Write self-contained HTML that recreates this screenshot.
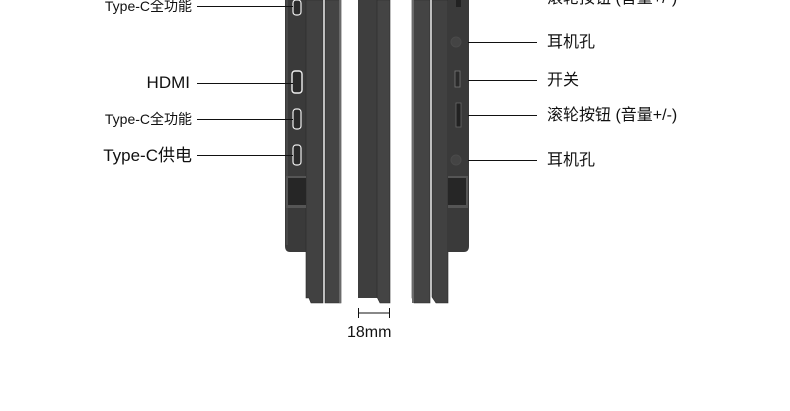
<!DOCTYPE html>
<html><head><meta charset="utf-8"><style>
body{margin:0;width:790px;height:411px;background:#fff;overflow:hidden;position:relative;font-family:"Liberation Sans","Noto Sans CJK SC",sans-serif;color:#111}
.a{position:absolute}
.t{position:absolute;white-space:nowrap;line-height:1}
.l{position:absolute;height:1px;background:#111}
</style></head><body>
<svg class="a" style="left:0;top:0" width="790" height="411">
<path d="M285 0 H306 V252 H290 Q285 252 285 246 Z" fill="#3a3a3a"/>
<line x1="287" y1="0" x2="287" y2="245" stroke="#555" stroke-width="1"/>
<path d="M306 0 H323 V303 H311 L309 298 H306 Z" fill="#414141" stroke="#2a2a2a" stroke-width="0.6"/>
<path d="M325 0 H341 V303 H325 Z" fill="#444" stroke="#2a2a2a" stroke-width="0.6"/>
<rect x="339" y="0" width="2" height="303" fill="#6a6a6a"/>
<rect x="286" y="176" width="20" height="32" fill="#555"/>
<rect x="288" y="178" width="18" height="27" fill="#262626"/>
<rect x="293" y="0" width="8" height="15" rx="3" fill="#2a2a2a" stroke="#eee" stroke-width="1.2"/>
<rect x="292" y="71" width="10" height="22" rx="3" fill="#2a2a2a" stroke="#eee" stroke-width="1.4"/>
<rect x="293" y="109" width="8" height="20" rx="3" fill="#2a2a2a" stroke="#eee" stroke-width="1.2"/>
<rect x="293" y="145" width="8" height="20" rx="3" fill="#2a2a2a" stroke="#eee" stroke-width="1.2"/>
<path d="M358 0 H377 V298 H358 Z" fill="#3e3e3e"/>
<path d="M377 0 H390 V303 H380 L377 297 Z" fill="#444" stroke="#2a2a2a" stroke-width="0.6"/>
<path d="M412 0 H430 V303 H414 L412 298 Z" fill="#444" stroke="#2a2a2a" stroke-width="0.6"/>
<rect x="412" y="0" width="2" height="303" fill="#6a6a6a"/>
<path d="M432 0 H448 V303 H436 L432 297 Z" fill="#414141" stroke="#2a2a2a" stroke-width="0.6"/>
<path d="M448 0 H469 V246 Q469 252 464 252 H448 Z" fill="#3a3a3a"/>
<rect x="448" y="176" width="20" height="32" fill="#555"/>
<rect x="448" y="178" width="18" height="27" fill="#262626"/>
<circle cx="456" cy="42" r="5" fill="#444" stroke="#4a4a4a"/>
<circle cx="456" cy="160" r="5" fill="#444" stroke="#4a4a4a"/>
<rect x="455" y="71" width="5" height="16" fill="#2a2a2a" stroke="#777" stroke-width="0.8"/>
<rect x="456" y="103" width="5" height="24" fill="#222" stroke="#666" stroke-width="0.8"/>
<rect x="456" y="0" width="5" height="7" fill="#222"/>
<line x1="358" y1="313" x2="390" y2="313" stroke="#111"/>
<line x1="358.5" y1="308" x2="358.5" y2="318" stroke="#111"/>
<line x1="389.5" y1="308" x2="389.5" y2="318" stroke="#111"/>
</svg>
<div class="l" style="left:197px;top:6px;width:96px"></div>
<div class="l" style="left:197px;top:83px;width:96px"></div>
<div class="l" style="left:197px;top:119px;width:96px"></div>
<div class="l" style="left:197px;top:155px;width:96px"></div>
<div class="l" style="left:468px;top:42px;width:69px"></div>
<div class="l" style="left:468px;top:80px;width:69px"></div>
<div class="l" style="left:468px;top:115px;width:69px"></div>
<div class="l" style="left:468px;top:160px;width:69px"></div>
<div class="t" style="right:598px;top:-1px;font-size:14px">Type-C全功能</div>
<div class="t" style="right:600px;top:74px;font-size:17px">HDMI</div>
<div class="t" style="right:598px;top:112px;font-size:14px">Type-C全功能</div>
<div class="t" style="right:598px;top:147px;font-size:17px">Type-C供电</div>
<div class="t" style="left:547px;top:-9px;font-size:16px">滚轮按钮 (音量+/-)</div>
<div class="t" style="left:547px;top:35px;font-size:16px">耳机孔</div>
<div class="t" style="left:547px;top:73px;font-size:16px">开关</div>
<div class="t" style="left:547px;top:108px;font-size:16px">滚轮按钮 (音量+/-)</div>
<div class="t" style="left:547px;top:153px;font-size:16px">耳机孔</div>
<div class="t" style="left:347px;top:325px;font-size:16px">18mm</div>
</body></html>
